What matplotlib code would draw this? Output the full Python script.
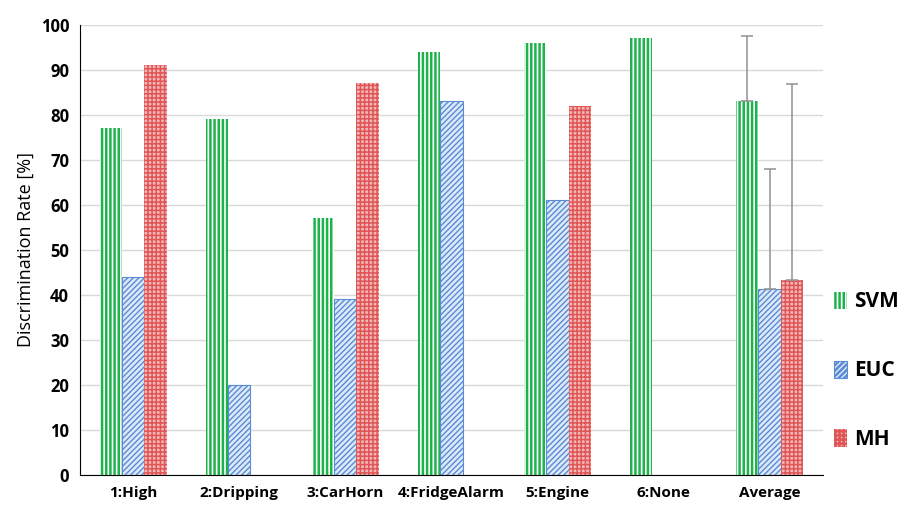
import numpy as np
import matplotlib
matplotlib.use("Agg")
import matplotlib.pyplot as plt

plt.rcParams['font.family'] = ['Open Sans', 'DejaVu Sans']
plt.rcParams['hatch.linewidth'] = 1.8

# Data
categories = ['1:High', '2:Dripping', '3:CarHorn', '4:FridgeAlarm', '5:Engine', '6:None', 'Average']
svm = [77, 79, 57, 94, 96, 97, 83.2]
euc = [44, 20, 39, 83, 61, 0, 41.3]
mh = [91, 0, 87, 0, 82, 0, 43.3]
# upper error bars on the Average group only
avg_err = [14.3, 26.7, 43.5]

fig = plt.figure(figsize=(9.11, 5.08), dpi=100)
ax = fig.add_axes([0.088, 0.065, 0.815, 0.886])

x = np.arange(len(categories))
w = 0.21

series = [
    ('SVM', svm, dict(facecolor='white', edgecolor='#1db34a', hatch='||||', linewidth=0), 1.8),
    ('EUC', euc, dict(facecolor='#dceaf8', edgecolor='#5b8ad6', hatch='//////', linewidth=0.8), 1.0),
    ('MH', mh, dict(facecolor='#f3b8b8', edgecolor='#e05555', hatch='++++', linewidth=0), 1.1),
]

handles = []
for i, (name, vals, style, hlw) in enumerate(series):
    pos = x + (i - 1) * w
    vals = np.array(vals, dtype=float)
    mask = vals > 0
    with plt.rc_context({'hatch.linewidth': hlw}):
        b = ax.bar(pos[mask], vals[mask], width=w, label=name, zorder=2, **style)
    handles.append(b)
    ax.errorbar(pos[-1], vals[-1], yerr=[[0], [avg_err[i]]], fmt='none',
                ecolor='#999999', elinewidth=1.2, capsize=4, capthick=1.2, zorder=3)

ax.set_ylim(0, 100)
ax.set_xlim(-0.5, len(categories) - 0.5)
ax.set_yticks(np.arange(0, 101, 10))
ax.set_xticks(x)
ax.set_xticklabels(categories, fontsize=11, fontweight='bold')
for lab in ax.get_yticklabels():
    lab.set_fontsize(12)
    lab.set_fontweight('bold')
ax.tick_params(axis='both', length=0, pad=8)
ax.set_ylabel('Discrimination Rate [%]', fontsize=13)

ax.grid(axis='y', color='#d9d9d9', linewidth=1, zorder=0)
ax.set_axisbelow(True)
for s in ['top', 'right']:
    ax.spines[s].set_visible(False)
ax.spines['left'].set_color('black')
ax.spines['bottom'].set_color('black')

leg = fig.legend(handles=handles, loc='center left', bbox_to_anchor=(0.916, 0.27),
                 frameon=False, prop={'size': 15, 'weight': 'bold'},
                 handlelength=0.6, handleheight=0.9, labelspacing=2.3, handletextpad=0.35,
                 borderpad=0, borderaxespad=0)

fig.savefig('out.png', dpi=100)
